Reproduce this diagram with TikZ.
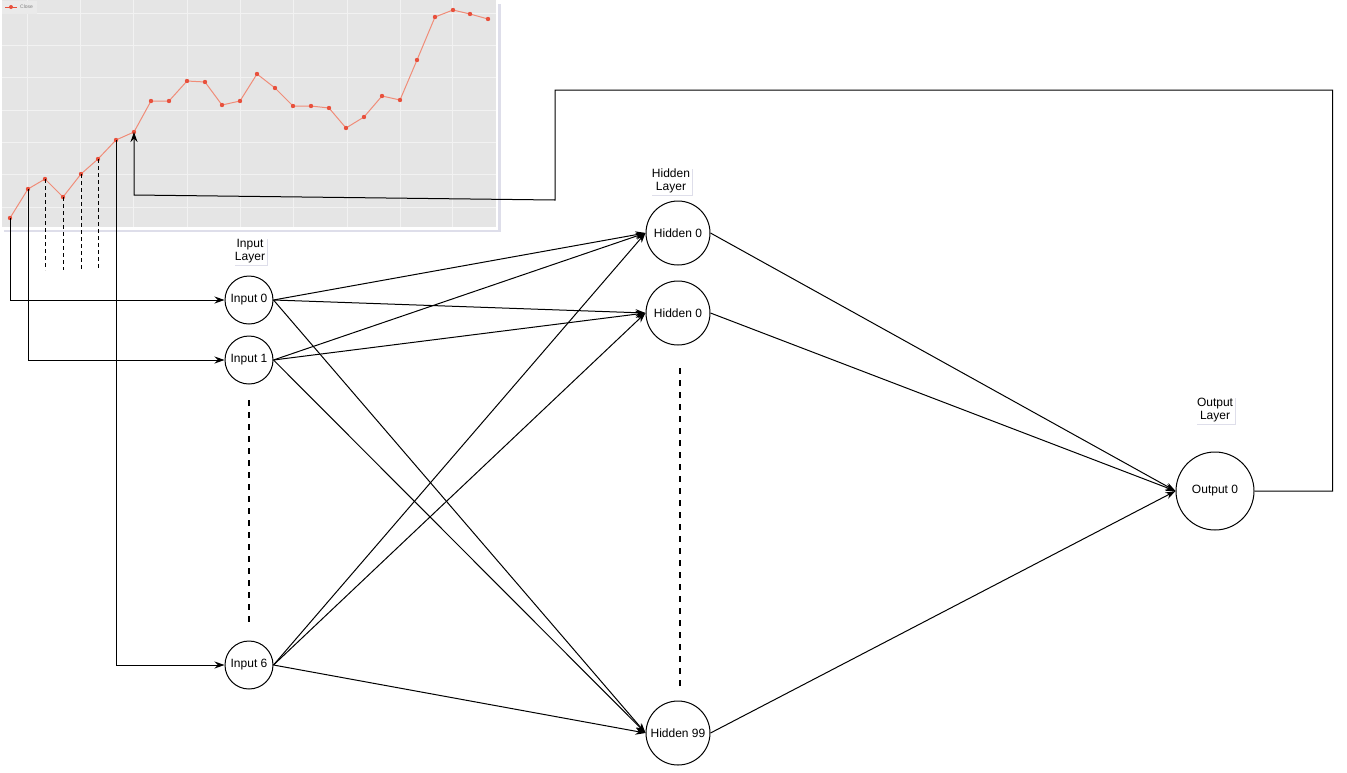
\documentclass[tikz,border=0pt]{standalone}
\usepackage{fontspec}
\setmainfont{Liberation Sans}
\usepackage{xcolor}
\usetikzlibrary{arrows.meta, positioning, shadows}

\definecolor{chartbg}{RGB}{229,229,229}
\definecolor{chartgrid}{RGB}{242,242,242}
\definecolor{closeline}{RGB}{240,140,120}
\definecolor{closedot}{RGB}{232,80,60}
\definecolor{shadowblue}{RGB}{200,200,220}

\begin{document}
\begin{tikzpicture}[
      x=1pt, y=-1pt,
      font=\fontsize{12}{14}\selectfont,
      inode/.style={draw, circle, line width=1pt, fill=white, minimum size=48pt, inner sep=0pt},
      hnode/.style={draw, circle, line width=1pt, fill=white, minimum size=64pt, inner sep=0pt},
      onode/.style={draw, circle, line width=1pt, fill=white, minimum size=78pt, inner sep=0pt},
      layerlbl/.style={align=center, fill=white, inner sep=1.5pt,
                       font=\fontsize{12}{13.5}\selectfont,
                       drop shadow={shadow xshift=1.5pt, shadow yshift=-1.5pt, fill=shadowblue, opacity=0.6}},
      arr/.style={-{Stealth[length=10pt, width=7pt]}, line width=1pt},
      tick/.style={line width=1pt, dash pattern=on 4pt off 3pt},
      gap/.style={line width=2pt, dash pattern=on 6pt off 6pt},
  ]

  \useasboundingbox (0,0) rectangle (1347,772);

  %% Price chart
  \fill[shadowblue!60] (4,4) rectangle (501,232);
  \fill[white] (0,0) rectangle (498,230);
  \fill[chartbg] (2,0) rectangle (496,227);
  \foreach \gx in {27,80,133,187,240,293,347,400,452}
    \draw[chartgrid, line width=1pt] (\gx,0) -- (\gx,227);
  \foreach \gy in {13,45,77,110,142,174,207}
    \draw[chartgrid, line width=1pt] (2,\gy) -- (496,\gy);

  \foreach \px/\py [count=\i from 0] in {10/218, 28/189, 45/179, 63/197, 81/174, 98/159,
      116/140, 134/132, 151/101, 169/101, 187/81, 205/82, 222/105, 240/101, 257/74,
      275/88, 293/106, 311/106, 329/108, 346/128, 364/117, 382/96, 400/100, 417/60,
      435/17, 453/10, 470/14, 488/19}
    \coordinate (p\i) at (\px,\py);

  \draw[closeline, line width=1pt] (p0)
    \foreach \i in {1,...,27} { -- (p\i) };
  \foreach \i in {0,...,27}
    \fill[closedot] (p\i) circle (2.2pt);

  %% legend
  \fill[chartbg!80!white] (2,1) rectangle (37,14);
  \draw[closedot, line width=1pt] (5,7) -- (17,7);
  \fill[closedot] (11,7) circle (2pt);
  \node[anchor=west, inner sep=0pt, text=gray, font=\fontsize{5}{6}\selectfont] (legend) at (20,7) {Close};

  %% Input layer
  \node[inode] (in0) at (249,300) {Input 0};
  \node[inode] (in1) at (249,360) {Input 1};
  \node[inode] (in6) at (249,665) {Input 6};
  \node[layerlbl] (inlbl) at (250,251) {Input\\Layer};

  %% Hidden layer
  \node[hnode] (hid0) at (678,233) {Hidden 0};
  \node[hnode] (hid1) at (678,313) {Hidden 0};
  \node[hnode] (hid99) at (678,733) {Hidden 99};
  \node[layerlbl] (hidlbl) at (671,181) {Hidden\\Layer};

  %% Output layer
  \node[onode] (out) at (1215,491) {Output 0};
  \node[layerlbl] (outlbl) at (1215,410) {Output\\Layer};

  %% Gaps
  \coordinate (gapA) at (249,400);
  \coordinate (gapB) at (249,622);
  \coordinate (gapC) at (680,368);
  \coordinate (gapD) at (680,688);
  \draw[gap] (gapA) -- (gapB);
  \draw[gap] (gapC) -- (gapD);

  %% Window ticks
  \foreach \i in {2,3,4,5}
    \draw[tick] (p\i) -- (p\i |- 0,270);

  %% Chart to inputs
  \draw[arr] (p0) |- (in0);
  \draw[arr] (p1) |- (in1);
  \draw[arr] (p6) |- (in6);

  %% Input to hidden
  \foreach \a in {in0,in1,in6}
    \foreach \b in {hid0,hid1,hid99}
      \draw[arr] (\a.east) -- (\b.west);

  %% Hidden to output
  \foreach \b in {hid0,hid1,hid99}
    \draw[arr] (\b.east) -- (out.west);

  %% Feedback
  \coordinate (bendA) at (555,90);
  \coordinate (bendB) at (555,200);
  \coordinate (bendC) at (134,195);
  \draw[arr] (out.east) -- ++(78,0) |- (bendA) -- (bendB) -- (bendC) -- (p7);

\end{tikzpicture}
\end{document}
